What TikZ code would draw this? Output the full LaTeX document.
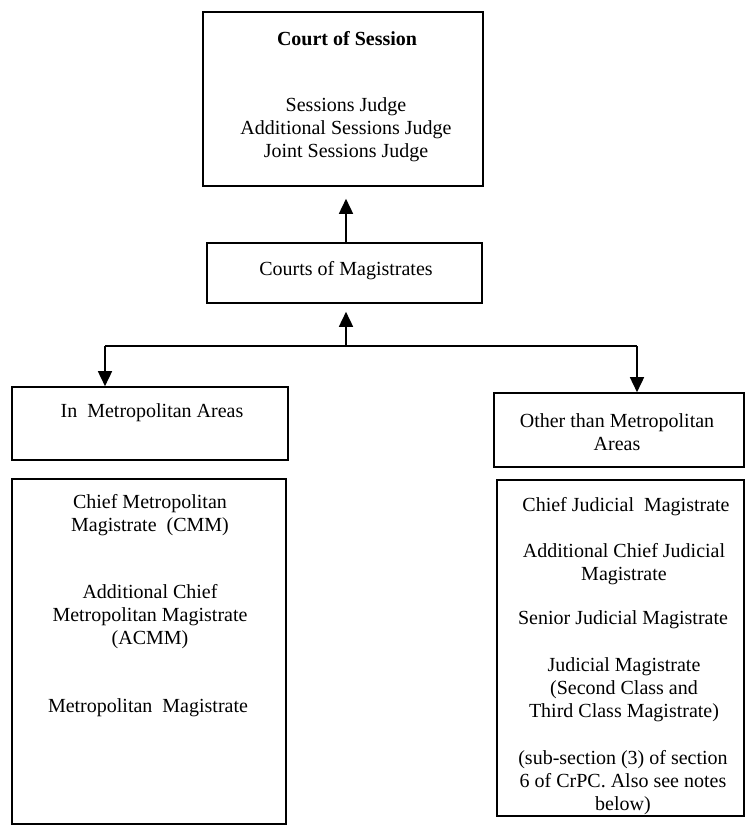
\documentclass[tikz,border=0pt]{standalone}
\usepackage{fontspec}
\setmainfont{Liberation Serif}
\usetikzlibrary{arrows.meta}
\begin{document}
\begin{tikzpicture}[x=1pt,y=-1pt,
  box/.style={draw, line width=1.6pt, rectangle, inner sep=0pt},
  lbl/.style={align=center, inner sep=0pt, font=\fontsize{20}{23}\selectfont},
  arr/.style={line width=1.6pt, -{Triangle[width=14pt,length=15pt]}},
  link/.style={line width=1.6pt}]
  \useasboundingbox (0,0) rectangle (746,826);

  % boxes (centre, size)
  \node[box, minimum width=280pt, minimum height=174pt] (court) at (343,99) {};
  \node[box, minimum width=275pt, minimum height=60pt] (mag) at (344.5,273) {};
  \node[box, minimum width=276pt, minimum height=73pt] (inl) at (150,423.5) {};
  \node[box, minimum width=250pt, minimum height=74pt] (oth) at (619,430) {};
  \node[box, minimum width=274pt, minimum height=345pt] (inlist) at (149,651.5) {};
  \node[box, minimum width=247pt, minimum height=336pt] (othlist) at (620.5,648) {};

  % texts
  \node[lbl, font=\fontsize{20}{23}\selectfont\bfseries] (t1) at (347,39) {Court of Session};
  \node[lbl] (t2) at (346,130) {Sessions Judge\\Additional Sessions Judge\\Joint Sessions Judge};
  \node[lbl] (t3) at (346,271) {Courts of Magistrates};
  \node[lbl] (t4) at (152,413) {In\ \ Metropolitan Areas};
  \node[lbl] (t5) at (617,432) {Other than Metropolitan\\Areas};
  \node[lbl] (t6) at (150,515) {Chief Metropolitan\\Magistrate\ \ (CMM)};
  \node[lbl] (t7) at (150,617) {Additional Chief\\Metropolitan Magistrate\\(ACMM)};
  \node[lbl] (t8) at (148,708) {Metropolitan\ \ Magistrate};
  \node[lbl] (t9) at (626,507) {Chief Judicial\ \ Magistrate};
  \node[lbl] (t10) at (624,564) {Additional Chief Judicial\\Magistrate};
  \node[lbl] (t11) at (623,620) {Senior Judicial Magistrate};
  \node[lbl] (t12) at (624,690) {Judicial Magistrate\\(Second Class and\\Third Class Magistrate)};
  \node[lbl] (t13) at (623,783) {(sub-section (3) of section\\6 of CrPC. Also see notes\\below)};

  % connectors
  \coordinate (bl) at (105,346);
  \coordinate (bm) at (346,346);
  \coordinate (br) at (637,346);
  \draw[link] (bl) -- (br);
  \draw[arr, shorten >=12pt] (mag.north -| bm) -- (court.south -| bm);
  \draw[arr, shorten >=8pt] (bm) -- (mag.south -| bm);
  \draw[arr] (bl) -- (bl |- inl.north);
  \draw[arr] (br) -- (br |- oth.north);
\end{tikzpicture}
\end{document}
